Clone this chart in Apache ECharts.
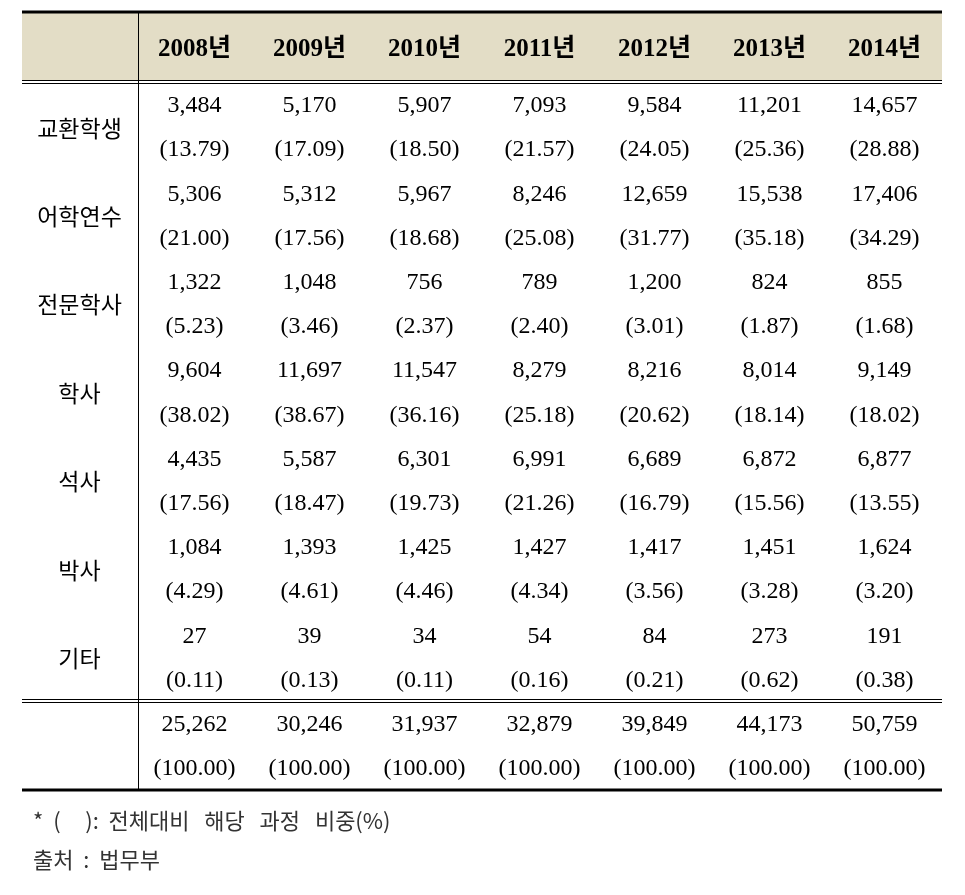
<!DOCTYPE html>
<html><head><meta charset="utf-8">
<script src="https://cdn.jsdelivr.net/npm/echarts@6/dist/echarts.min.js"></script>
<style>html,body{margin:0;padding:0;background:#fff}#c{width:965px;height:895px}</style>
</head><body><div id="c"></div>
<script>
// ---- data ----
const years = ['2008년','2009년','2010년','2011년','2012년','2013년','2014년'];
const categories = ['교환학생','어학연수','전문학사','학사','석사','박사','기타'];
const exchange = [3484,5170,5907,7093,9584,11201,14657];
const exchangePct = [13.79,17.09,18.50,21.57,24.05,25.36,28.88];
const language = [5306,5312,5967,8246,12659,15538,17406];
const languagePct = [21.00,17.56,18.68,25.08,31.77,35.18,34.29];
const associate = [1322,1048,756,789,1200,824,855];
const associatePct = [5.23,3.46,2.37,2.40,3.01,1.87,1.68];
const bachelor = [9604,11697,11547,8279,8216,8014,9149];
const bachelorPct = [38.02,38.67,36.16,25.18,20.62,18.14,18.02];
const master = [4435,5587,6301,6991,6689,6872,6877];
const masterPct = [17.56,18.47,19.73,21.26,16.79,15.56,13.55];
const doctor = [1084,1393,1425,1427,1417,1451,1624];
const doctorPct = [4.29,4.61,4.46,4.34,3.56,3.28,3.20];
const other = [27,39,34,54,84,273,191];
const otherPct = [0.11,0.13,0.11,0.16,0.21,0.62,0.38];
const total = [25262,30246,31937,32879,39849,44173,50759];
const totalPct = [100,100,100,100,100,100,100];
const footnote1 = '*  (     ):  전체대비   해당   과정   비중(%)';
const footnote2 = '출처  :  법무부';

// ---- layout (in table units) ----
const HEADER_H = 1.6;
const rowsCounts = [exchange, language, associate, bachelor, master, doctor, other];
const rowsPcts = [exchangePct, languagePct, associatePct, bachelorPct, masterPct, doctorPct, otherPct];
const DATA_END = HEADER_H + rowsCounts.length * 2;
const Y_MAX = DATA_END + 2;

const fmtN = v => v.toLocaleString('en-US');
const fmtP = v => '(' + v.toFixed(2) + ')';

const NUM_FONT = "'Liberation Serif','Noto Sans CJK KR',serif";
const KR_FONT = "'Noto Sans CJK KR',sans-serif";

const cells = [];
years.forEach((y, i) => cells.push({x: i + 0.5, y: HEADER_H / 2, text: y, kind: 'head'}));
rowsCounts.forEach((arr, r) => {
  const base = HEADER_H + r * 2;
  cells.push({x: -0.5, y: base + 1, text: categories[r], kind: 'label'});
  arr.forEach((v, i) => cells.push({x: i + 0.5, y: base + 0.5, text: fmtN(v), kind: 'num'}));
  rowsPcts[r].forEach((v, i) => cells.push({x: i + 0.5, y: base + 1.5, text: fmtP(v), kind: 'num'}));
});
total.forEach((v, i) => cells.push({x: i + 0.5, y: DATA_END + 0.5, text: fmtN(v), kind: 'num'}));
totalPct.forEach((v, i) => cells.push({x: i + 0.5, y: DATA_END + 1.5, text: fmtP(v), kind: 'num'}));

const rules = [[0, 'thick'], [HEADER_H, 'double'], [DATA_END, 'double'], [Y_MAX, 'thick']];

const chart = echarts.init(document.getElementById('c'), null, {renderer: 'canvas'});
chart.setOption({
  animation: false,
  backgroundColor: '#ffffff',
  grid: {left: 22, right: 23, top: 12, bottom: 105},
  xAxis: {type: 'value', min: -1, max: 7, show: false},
  yAxis: {type: 'value', min: 0, max: Y_MAX, inverse: true, show: false},
  series: [
    {
      type: 'custom', silent: true,
      data: [[-1, 0, 7, HEADER_H]],
      renderItem: (p, api) => {
        const a = api.coord([api.value(0), api.value(1)]);
        const b = api.coord([api.value(2), api.value(3)]);
        return {type: 'rect', shape: {x: a[0], y: a[1], width: b[0] - a[0], height: b[1] - a[1] - 2}, style: {fill: '#e3ddc6'}};
      }
    },
    {
      type: 'custom', silent: true,
      data: [[0, 0, Y_MAX]],
      renderItem: (p, api) => {
        const a = api.coord([api.value(0), api.value(1)]);
        const b = api.coord([api.value(0), api.value(2)]);
        const x = Math.round(a[0]) + 1.5;
        return {type: 'line', shape: {x1: x, y1: a[1], x2: x, y2: b[1]}, style: {stroke: '#000', lineWidth: 1}};
      }
    },
    {
      type: 'custom', silent: true,
      data: rules.map(r => [r[0]]),
      renderItem: (p, api) => {
        const kind = rules[p.dataIndex][1];
        const a = api.coord([-1, api.value(0)]);
        const b = api.coord([7, api.value(0)]);
        if (kind === 'thick') {
          return {type: 'line', shape: {x1: a[0], y1: a[1], x2: b[0], y2: b[1]}, style: {stroke: '#000', lineWidth: 3}};
        }
        const y1 = Math.round(a[1]) - 2.5, y2 = Math.round(a[1]) + 0.5;
        return {type: 'group', children: [
          {type: 'line', shape: {x1: a[0], y1: y1, x2: b[0], y2: y1}, style: {stroke: '#000', lineWidth: 1}},
          {type: 'line', shape: {x1: a[0], y1: y2, x2: b[0], y2: y2}, style: {stroke: '#000', lineWidth: 1}}
        ]};
      }
    },
    {
      type: 'custom', silent: true,
      data: cells.map(c => [c.x, c.y]),
      renderItem: (p, api) => {
        const c = cells[p.dataIndex];
        const pt = api.coord([api.value(0), api.value(1)]);
        let font, dy = 1;
        if (c.kind === 'head') { font = {fontSize: 25, fontWeight: 'bold', fontFamily: NUM_FONT}; dy = 2; }
        else if (c.kind === 'label') font = {fontSize: 23, fontWeight: 'normal', fontFamily: KR_FONT};
        else font = {fontSize: 24, fontWeight: 'normal', fontFamily: NUM_FONT};
        return {type: 'text', style: Object.assign({text: c.text, x: pt[0], y: pt[1] + dy, align: 'center', verticalAlign: 'middle', fill: '#000'}, font)};
      }
    }
  ],
  graphic: [
    {type: 'text', left: 33, top: 810, style: {text: footnote1, fontSize: 22, fontFamily: KR_FONT, fill: '#333'}},
    {type: 'text', left: 33, top: 849, style: {text: footnote2, fontSize: 22, fontFamily: KR_FONT, fill: '#333'}}
  ]
});
</script></body></html>
